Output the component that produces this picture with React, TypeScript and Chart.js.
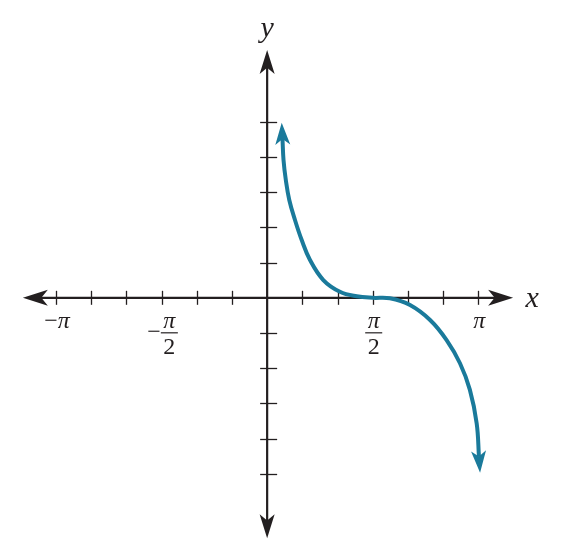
import React, { useEffect, useRef } from 'react';
import { Chart, registerables } from 'chart.js';

Chart.register(...registerables);

// Curve points (x in radians, y in axis units)
const curveX = [
  0.2283, 0.2435, 0.2775, 0.3293, 0.4142, 0.5142, 0.6377, 0.8357, 1.0833, 1.3326,
  1.5708, 1.8274, 2.1258, 2.4243, 2.6704, 2.8693, 3.0159, 3.118, 3.152,
];
const curveY = [
  4.52, 3.92, 3.353, 2.779, 2.211, 1.642, 1.074, 0.506, 0.173, 0.043,
  0, -0.014, -0.205, -0.63, -1.2, -1.86, -2.61, -3.57, -4.52,
];

// Tick marks: x in multiples of π/6, y in units
const xTickSixths = [-6, -5, -4, -3, -2, -1, 1, 2, 3, 4, 5, 6];
const yTickValues = [-5, -4, -3, -2, -1, 1, 2, 3, 4, 5];

// Tick labels on the x axis (position in multiples of π)
const xLabelPiMultiples = [-1, -0.5, 0.5, 1];
const xLabelSigns = ['−', '−', '', ''];
const xLabelNumerators = ['π', 'π', 'π', 'π'];
const xLabelDenominators = ['', '2', '2', ''];

const xAxisTitle = 'x';
const yAxisTitle = 'y';

// Scale ranges / axis extents
const X_MIN = -3.975;
const X_MAX = 4.432;
const Y_MIN = -7.138;
const Y_MAX = 8.463;
const AXIS_X_FROM = -3.635;
const AXIS_X_TO = 3.66;
const AXIS_Y_FROM = -6.83;
const AXIS_Y_TO = 7.04;

const AXIS_COLOR = '#231f20';
const CURVE_COLOR = '#1a7a9b';
const SERIF = "'Liberation Serif', 'Times New Roman', serif";

function arrowHead(
  ctx: CanvasRenderingContext2D,
  tx: number,
  ty: number,
  dx: number,
  dy: number,
  len: number,
  width: number,
  color: string
) {
  const d = Math.hypot(dx, dy) || 1;
  const ux = dx / d;
  const uy = dy / d;
  const px = -uy;
  const py = ux;
  const bx = tx - ux * len;
  const by = ty - uy * len;
  const nx = tx - ux * len * 0.74;
  const ny = ty - uy * len * 0.74;
  ctx.save();
  ctx.fillStyle = color;
  ctx.beginPath();
  ctx.moveTo(tx, ty);
  ctx.lineTo(bx + px * width / 2, by + py * width / 2);
  ctx.lineTo(nx, ny);
  ctx.lineTo(bx - px * width / 2, by - py * width / 2);
  ctx.closePath();
  ctx.fill();
  ctx.restore();
}

const axesPlugin = {
  id: 'crossAxes',
  beforeDatasetsDraw(chart: any) {
    const ctx: CanvasRenderingContext2D = chart.ctx;
    const xs = chart.scales.x;
    const ys = chart.scales.y;
    const ox = xs.getPixelForValue(0);
    const oy = ys.getPixelForValue(0);
    ctx.save();
    ctx.strokeStyle = AXIS_COLOR;
    ctx.lineWidth = 2.2;
    const xl = xs.getPixelForValue(AXIS_X_FROM);
    const xr = xs.getPixelForValue(AXIS_X_TO);
    ctx.beginPath();
    ctx.moveTo(xl + 10, oy);
    ctx.lineTo(xr - 10, oy);
    ctx.stroke();
    const yt = ys.getPixelForValue(AXIS_Y_TO);
    const yb = ys.getPixelForValue(AXIS_Y_FROM);
    ctx.beginPath();
    ctx.moveTo(ox, yt + 10);
    ctx.lineTo(ox, yb - 10);
    ctx.stroke();
    arrowHead(ctx, xl, oy, -1, 0, 25, 16, AXIS_COLOR);
    arrowHead(ctx, xr, oy, 1, 0, 25, 16, AXIS_COLOR);
    arrowHead(ctx, ox, yt, 0, -1, 24, 15, AXIS_COLOR);
    arrowHead(ctx, ox, yb, 0, 1, 24, 15, AXIS_COLOR);

    ctx.lineWidth = 1.3;
    xTickSixths.forEach((k) => {
      const p = Math.round(xs.getPixelForValue((k * Math.PI) / 6)) + 0.5;
      ctx.beginPath();
      ctx.moveTo(p, oy - 7);
      ctx.lineTo(p, oy + 7);
      ctx.stroke();
    });
    yTickValues.forEach((v) => {
      const p = Math.round(ys.getPixelForValue(v)) + 0.5;
      ctx.beginPath();
      ctx.moveTo(ox - 7, p);
      ctx.lineTo(ox + 10, p);
      ctx.stroke();
    });

    ctx.fillStyle = AXIS_COLOR;
    ctx.textBaseline = 'alphabetic';
    const italic = `italic 24px ${SERIF}`;
    const upright = `24px ${SERIF}`;
    xLabelPiMultiples.forEach((m, i) => {
      const cx = xs.getPixelForValue(m * Math.PI) + 1;
      const sign = xLabelSigns[i];
      const num = xLabelNumerators[i];
      const den = xLabelDenominators[i];
      ctx.font = upright;
      const signW = sign ? ctx.measureText(sign).width : 0;
      if (!den) {
        ctx.font = italic;
        const numW = ctx.measureText(num).width;
        const left = cx - (signW + numW) / 2;
        ctx.font = upright;
        ctx.textAlign = 'left';
        if (sign) ctx.fillText(sign, left, oy + 30);
        ctx.font = italic;
        ctx.fillText(num, left + signW, oy + 30);
      } else {
        ctx.font = italic;
        const numW = ctx.measureText(num).width;
        ctx.font = upright;
        const denW = ctx.measureText(den).width;
        const barW = Math.max(numW, denW) + 5;
        const left = cx - (signW + barW) / 2;
        const fx = left + signW + barW / 2;
        ctx.textAlign = 'left';
        if (sign) ctx.fillText(sign, left, oy + 41);
        ctx.textAlign = 'center';
        ctx.font = italic;
        ctx.fillText(num, fx, oy + 30);
        ctx.font = upright;
        ctx.fillText(den, fx, oy + 56);
        ctx.lineWidth = 1.2;
        ctx.beginPath();
        ctx.moveTo(fx - barW / 2, oy + 35);
        ctx.lineTo(fx + barW / 2, oy + 35);
        ctx.stroke();
      }
    });

    ctx.font = `italic 30px ${SERIF}`;
    ctx.textAlign = 'center';
    ctx.fillText(xAxisTitle, xr + 19, oy + 9);
    ctx.fillText(yAxisTitle, ox, yt - 13);
    ctx.restore();
  },
  afterDatasetsDraw(chart: any) {
    const ctx: CanvasRenderingContext2D = chart.ctx;
    const pts = chart.getDatasetMeta(0).data;
    if (!pts || pts.length < 2) return;
    const L = 22;
    const W = 15;
    const lead = 16;
    const a0 = pts[0];
    const a1 = pts[1];
    const d1x = a0.x - a1.x;
    const d1y = a0.y - a1.y;
    const m1 = Math.hypot(d1x, d1y) || 1;
    arrowHead(ctx, a0.x + (d1x / m1) * lead, a0.y + (d1y / m1) * lead, d1x, d1y, L, W, CURVE_COLOR);
    const n = pts.length;
    const b0 = pts[n - 1];
    const b1 = pts[n - 2];
    const d2x = b0.x - b1.x;
    const d2y = b0.y - b1.y;
    const m2 = Math.hypot(d2x, d2y) || 1;
    arrowHead(ctx, b0.x + (d2x / m2) * lead, b0.y + (d2y / m2) * lead, d2x, d2y, L, W, CURVE_COLOR);
  },
};

export default function App() {
  const ref = useRef<HTMLCanvasElement | null>(null);
  useEffect(() => {
    if (!ref.current) return;
    const chart = new Chart(ref.current, {
      type: 'line',
      data: {
        datasets: [
          {
            data: curveX.map((x, i) => ({ x, y: curveY[i] })),
            borderColor: CURVE_COLOR,
            borderWidth: 4,
            pointRadius: 0,
            fill: false,
            tension: 0.4,
          },
        ],
      },
      options: {
        responsive: false,
        animation: false,
        layout: { padding: 0 },
        scales: {
          x: { type: 'linear', display: false, min: X_MIN, max: X_MAX },
          y: { type: 'linear', display: false, min: Y_MIN, max: Y_MAX },
        },
        plugins: { legend: { display: false }, tooltip: { enabled: false } },
      },
      plugins: [axesPlugin],
    } as any);
    return () => chart.destroy();
  }, []);
  return (
    <div style={{ position: 'fixed', left: 0, top: 0, width: 565, height: 549, background: '#fff' }}>
      <canvas ref={ref} width={565} height={549} style={{ display: 'block' }} />
    </div>
  );
}
